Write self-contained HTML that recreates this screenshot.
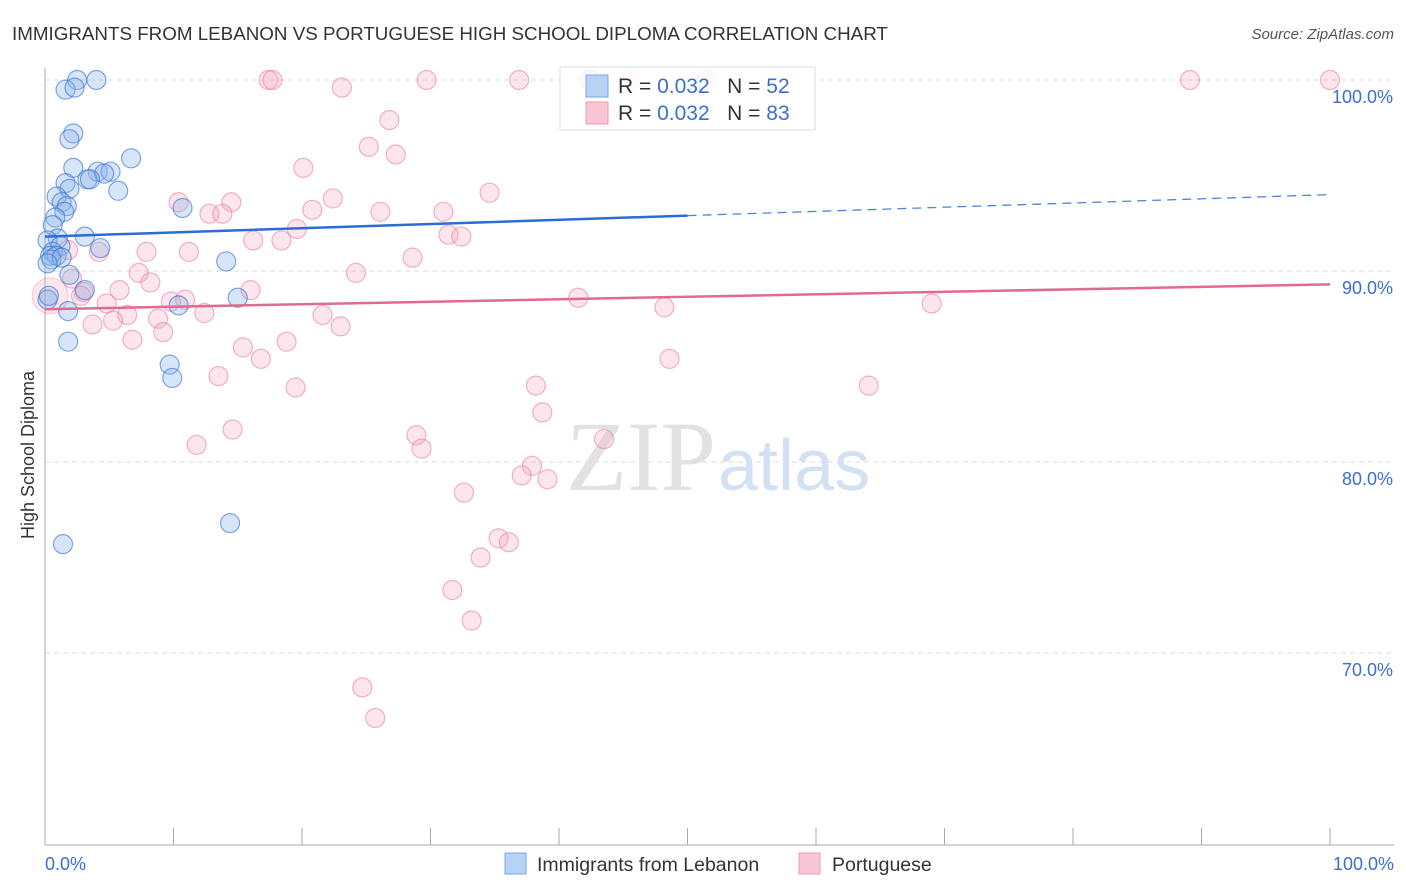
<!DOCTYPE html>
<html><head><meta charset="utf-8"><style>
body{margin:0;background:#fff;font-family:"Liberation Sans",sans-serif;}
svg{display:block}
</style></head><body>
<svg id="chart" width="1406" height="892">
<text x="12" y="40" font-size="18.8" fill="#333">IMMIGRANTS FROM LEBANON VS PORTUGUESE HIGH SCHOOL DIPLOMA CORRELATION CHART</text>
<text x="1394" y="39" font-size="15" fill="#555" font-style="italic" text-anchor="end">Source: ZipAtlas.com</text>
<text transform="translate(34,455) rotate(-90)" font-size="18" fill="#333" text-anchor="middle">High School Diploma</text>
<g id="grid"></g>
<text x="716" y="490" font-size="100" fill="#e2e2e2" font-family="Liberation Serif,serif" text-anchor="end">ZIP</text>
<text x="718" y="490" font-size="72" fill="#d3e1f3" text-anchor="start">atlas</text>
<g id="pts"></g>
<g id="lines"></g>
<g>
<rect x="560" y="67" width="255" height="63" fill="rgba(255,255,255,0.85)" stroke="#ddd"/>
<rect x="586" y="75" width="22" height="22" fill="#b7d2f5" stroke="#7aa6e6"/>
<rect x="586" y="102" width="22" height="22" fill="#f9c6d5" stroke="#ee9ab3"/>
<text x="618" y="93" font-size="21" fill="#333">R = <tspan fill="#3a6fd0">0.032</tspan>&#160;&#160;&#160;N = <tspan fill="#3a6fd0">52</tspan></text>
<text x="618" y="120" font-size="21" fill="#333">R = <tspan fill="#3a6fd0">0.032</tspan>&#160;&#160;&#160;N = <tspan fill="#3a6fd0">83</tspan></text>
</g>
<g>
<rect x="505" y="853" width="21" height="21" fill="#b7d2f5" stroke="#7aa6e6"/>
<text x="537" y="871" font-size="19.5" fill="#333">Immigrants from Lebanon</text>
<rect x="799" y="853" width="21" height="21" fill="#f9c6d5" stroke="#ee9ab3"/>
<text x="832" y="871" font-size="19.5" fill="#333">Portuguese</text>
</g>
<text x="45" y="870" font-size="18" fill="#3a6fd0">0.0%</text>
<text x="1394" y="870" font-size="18" fill="#3a6fd0" text-anchor="end">100.0%</text>
</svg>
<script>
const yTicks=[100,90,80,70];
const yTickLabels=["100.0%","90.0%","80.0%","70.0%"];
const xTicks=[0,10,20,30,40,50,60,70,80,90,100];
const blueX=[2.5,4.0,1.6,2.3,2.2,1.9,6.7,2.2,4.1,5.1,4.6,3.3,3.5,1.6,1.9,5.7,0.9,1.3,1.7,1.5,10.7,0.8,0.6,3.1,1.0,0.2,1.2,4.3,0.6,0.4,0.9,0.5,1.3,14.1,0.2,1.9,3.1,15.0,0.2,10.4,1.8,1.8,9.7,9.9,14.4,1.4,42.4,0.3];
const blueY=[100,100,99.5,99.6,97.2,96.9,95.9,95.4,95.2,95.2,95.1,94.8,94.8,94.6,94.3,94.2,93.9,93.6,93.4,93.1,93.3,92.8,92.4,91.8,91.7,91.6,91.3,91.2,91.0,90.8,90.8,90.6,90.7,90.5,90.4,89.8,89.0,88.6,88.5,88.2,87.9,86.3,85.1,84.4,76.8,75.7,100,88.7];
const pinkX=[17.4,17.7,29.7,36.9,45.5,89.1,100,23.1,26.8,25.2,27.3,20.1,34.6,22.4,10.4,14.5,12.8,13.8,20.8,26.1,31.0,19.6,31.4,32.4,16.2,18.4,7.9,11.2,4.2,1.8,24.2,28.6,7.3,2.1,8.2,16.0,5.8,3.0,2.8,10.9,9.8,41.5,69.0,4.8,48.2,12.4,21.6,6.4,8.8,5.3,3.7,23.0,9.2,6.8,18.8,15.4,16.8,48.6,13.5,19.5,38.2,64.1,38.7,14.6,43.5,28.9,29.3,11.8,37.9,37.1,39.1,32.6,35.3,36.1,33.9,31.7,33.2,24.7,25.7,51.4];
const pinkY=[100,100,100,100,100,100,100,99.6,97.9,96.5,96.1,95.4,94.1,93.8,93.6,93.6,93.0,93.0,93.2,93.1,93.1,92.2,91.9,91.8,91.6,91.6,91.0,91.0,91.0,91.1,89.9,90.7,89.9,89.6,89.4,89.0,89.0,88.9,88.7,88.5,88.4,88.6,88.3,88.3,88.1,87.8,87.7,87.7,87.5,87.4,87.2,87.1,86.8,86.4,86.3,86.0,85.4,85.4,84.5,83.9,84.0,84.0,82.6,81.7,81.2,81.4,80.7,80.9,79.8,79.3,79.1,78.4,76.0,75.8,75.0,73.3,71.7,68.2,66.6,100];
const blueTrend=[91.8,92.9,94.0]; // at x=0,50,100
const pinkTrend=[88.0,89.3]; // at x=0,100
const X=v=>45+v*12.85, Y=v=>80+(100-v)*19.1;
const NS="http://www.w3.org/2000/svg";
function mk(t,a,p){const e=document.createElementNS(NS,t);for(const k in a)e.setAttribute(k,a[k]);p.appendChild(e);return e;}
const grid=document.getElementById('grid');
yTicks.forEach((v,i)=>{
 const l=mk('line',{x1:45,x2:1394,y1:Y(v),y2:Y(v),stroke:'#ddd','stroke-dasharray':'5,4'},grid);
 
 
 const t=mk('text',{x:1393,y:Y(v)+23,'font-size':18,fill:'#3a6fd0','text-anchor':'end'},grid);
 t.textContent=yTickLabels[i];
 
 
});
mk('line',{x1:45,x2:45,y1:68,y2:845,stroke:'#aaa'},grid);
mk('line',{x1:45,x2:1394,y1:845,y2:845,stroke:'#aaa'},grid);
xTicks.forEach(v=>{const t=mk('line',{x1:X(v),x2:X(v),y1:828,y2:845,stroke:'#aaa'},grid);
 
 });
const pts=document.getElementById('pts');
pinkX.forEach((x,i)=>{const c=mk('circle',{cx:X(x),cy:Y(pinkY[i]),r:9.5,fill:'rgba(244,160,185,0.28)',stroke:'rgba(230,120,155,0.55)','stroke-width':1.2},pts);
 
 });
mk('circle',{cx:X(0.4),cy:Y(88.7),r:18,fill:'rgba(244,160,185,0.25)',stroke:'rgba(230,120,155,0.4)'},pts);
blueX.forEach((x,i)=>{const c=mk('circle',{cx:X(x),cy:Y(blueY[i]),r:9.5,fill:'rgba(140,180,235,0.35)',stroke:'rgba(50,110,210,0.6)','stroke-width':1.2},pts);
 
 });
const lines=document.getElementById('lines');
const b1=mk('line',{x1:X(0),y1:Y(blueTrend[0]),x2:X(50),y2:Y(blueTrend[1]),stroke:'#2a6dd6','stroke-width':2.5},lines);


mk('line',{x1:X(50),y1:Y(blueTrend[1]),x2:X(100),y2:Y(blueTrend[2]),stroke:'#4a85d8','stroke-width':1.3,'stroke-dasharray':'9,6'},lines);
const p1=mk('line',{x1:X(0),y1:Y(pinkTrend[0]),x2:X(100),y2:Y(pinkTrend[1]),stroke:'#e06a93','stroke-width':2.5},lines);


</script>
</body></html>
